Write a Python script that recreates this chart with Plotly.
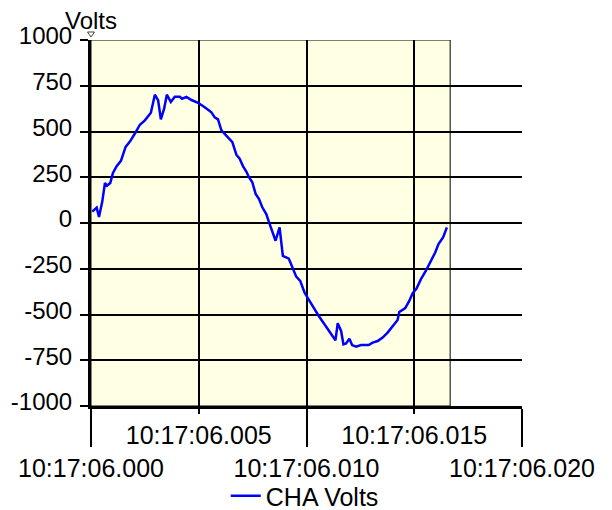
import plotly.graph_objects as go

# ---- data (time in ms after 10:17:06.000, volts) ----
time_ms = [0.060, 0.264, 0.370, 0.523, 0.648, 0.741, 0.894, 1.019, 1.190, 1.389,
           1.606, 1.806, 2.037, 2.269, 2.500, 2.653, 2.778, 2.963, 3.116, 3.241,
           3.394, 3.519, 3.704, 3.889, 4.120, 4.227, 4.431, 4.662, 4.968, 5.278,
           5.588, 5.741, 5.894, 6.051, 6.282, 6.560, 6.745, 6.898, 7.051, 7.208,
           7.329, 7.486, 7.639, 7.792, 7.949, 8.134, 8.287, 8.565, 8.750, 8.903,
           9.181, 9.366, 9.523, 9.708, 9.907, 10.139, 10.370, 10.569, 10.833, 11.065,
           11.343, 11.449, 11.606, 11.713, 11.838, 11.991, 12.116, 12.301, 12.532, 12.884,
           13.069, 13.301, 13.532, 13.764, 13.995, 14.227, 14.306, 14.583, 14.769, 14.921,
           15.106, 15.310, 15.542, 15.847, 15.972, 16.125, 16.343, 16.514]
volts = [62, 84, 33, 117, 219, 204, 219, 274, 311, 340,
         416, 445, 489, 537, 561, 588, 603, 701, 670, 566,
         625, 701, 661, 690, 690, 679, 689, 672, 657, 632,
         605, 577, 566, 506, 478, 442, 373, 351, 311, 281,
         250, 223, 159, 132, 86, 49, -5, -97, -24, -180,
         -195, -243, -293, -316, -380, -426, -471, -508, -553, -590,
         -641, -548, -590, -663, -658, -632, -667, -676, -667, -667,
         -654, -645, -626, -599, -566, -530, -486, -465, -426, -385,
         -358, -307, -261, -188, -161, -115, -78, -24]

record_end_ms = 1000.0 / 60.0

x_major_vals = [0, 10, 20]
x_major_text = ["10:17:06.000", "10:17:06.010", "10:17:06.020"]
x_minor_vals = [5, 15]
x_minor_text = ["10:17:06.005", "10:17:06.015"]
y_ticks = [-1000, -750, -500, -250, 0, 250, 500, 750, 1000]
y_tick_text = ["-1000", "-750", "-500", "-250", "0", "250", "500", "750", "1000"]
series_name = "CHA Volts"
y_title = "Volts"

FONT = "Arial, Liberation Sans, sans-serif"
FS = 25

fig = go.Figure()
fig.add_trace(go.Scatter(x=time_ms, y=volts, mode="lines", name=series_name,
                         line=dict(color="#0000FF", width=2.5)))
# invisible helper trace on the second x axis (upper-row labels)
fig.add_trace(go.Scatter(x=[0, 20], y=[0, 0], xaxis="x2", mode="lines",
                         line=dict(width=0), showlegend=False, hoverinfo="skip"))

fig.add_shape(type="rect", xref="x", yref="y", x0=0, x1=record_end_ms, y0=-1000, y1=1000,
              fillcolor="#FFFFE4", line=dict(color="black", width=1), layer="below")
# small axis-end marker above the value axis
fig.add_shape(type="path", xref="paper", yref="paper", xsizemode="pixel", ysizemode="pixel",
              xanchor=0, yanchor=1, path="M-3.5,8 L3.5,8 L0,3 Z",
              line=dict(color="#444444", width=1), fillcolor="white")

fig.update_layout(
    width=604, height=502,
    margin=dict(l=83, r=90, t=32, b=104, autoexpand=False),
    paper_bgcolor="white", plot_bgcolor="white",
    font=dict(family=FONT, size=FS, color="black"),
    xaxis=dict(range=[0, 20], tickvals=x_major_vals, ticktext=x_major_text,
               ticks="outside", ticklen=38, tickwidth=2, tickcolor="black",
               ticklabelstandoff=0, automargin=False,
               showgrid=True, gridcolor="black", gridwidth=2,
               showline=True, linecolor="black", linewidth=3, zeroline=False),
    xaxis2=dict(range=[0, 20], overlaying="x", anchor="y", side="bottom",
                tickvals=x_minor_vals, ticktext=x_minor_text,
                ticks="outside", ticklen=7, tickwidth=2, tickcolor="black",
                ticklabelstandoff=0, automargin=False,
                showgrid=True, gridcolor="black", gridwidth=2,
                showline=False, zeroline=False),
    yaxis=dict(range=[-1000, 1000], tickvals=y_ticks, ticktext=y_tick_text,
               tickfont=dict(size=24),
               ticks="outside", ticklen=8, tickwidth=2, tickcolor="black",
               ticklabelstandoff=3, ticklabelshift=-4, automargin=False,
               showgrid=True, gridcolor="black", gridwidth=2,
               showline=True, linecolor="black", linewidth=3, zeroline=False),
    legend=dict(orientation="h", x=0.496, y=-0.246, xanchor="center", yanchor="middle",
                font=dict(size=FS), bgcolor="rgba(0,0,0,0)"),
    showlegend=True,
)

fig.add_annotation(text=y_title, xref="paper", yref="paper", x=0, y=1.0533,
                   xanchor="center", yanchor="middle", showarrow=False,
                   height=24, valign="middle", borderpad=0,
                   font=dict(size=24))

fig.write_html("out.html")
